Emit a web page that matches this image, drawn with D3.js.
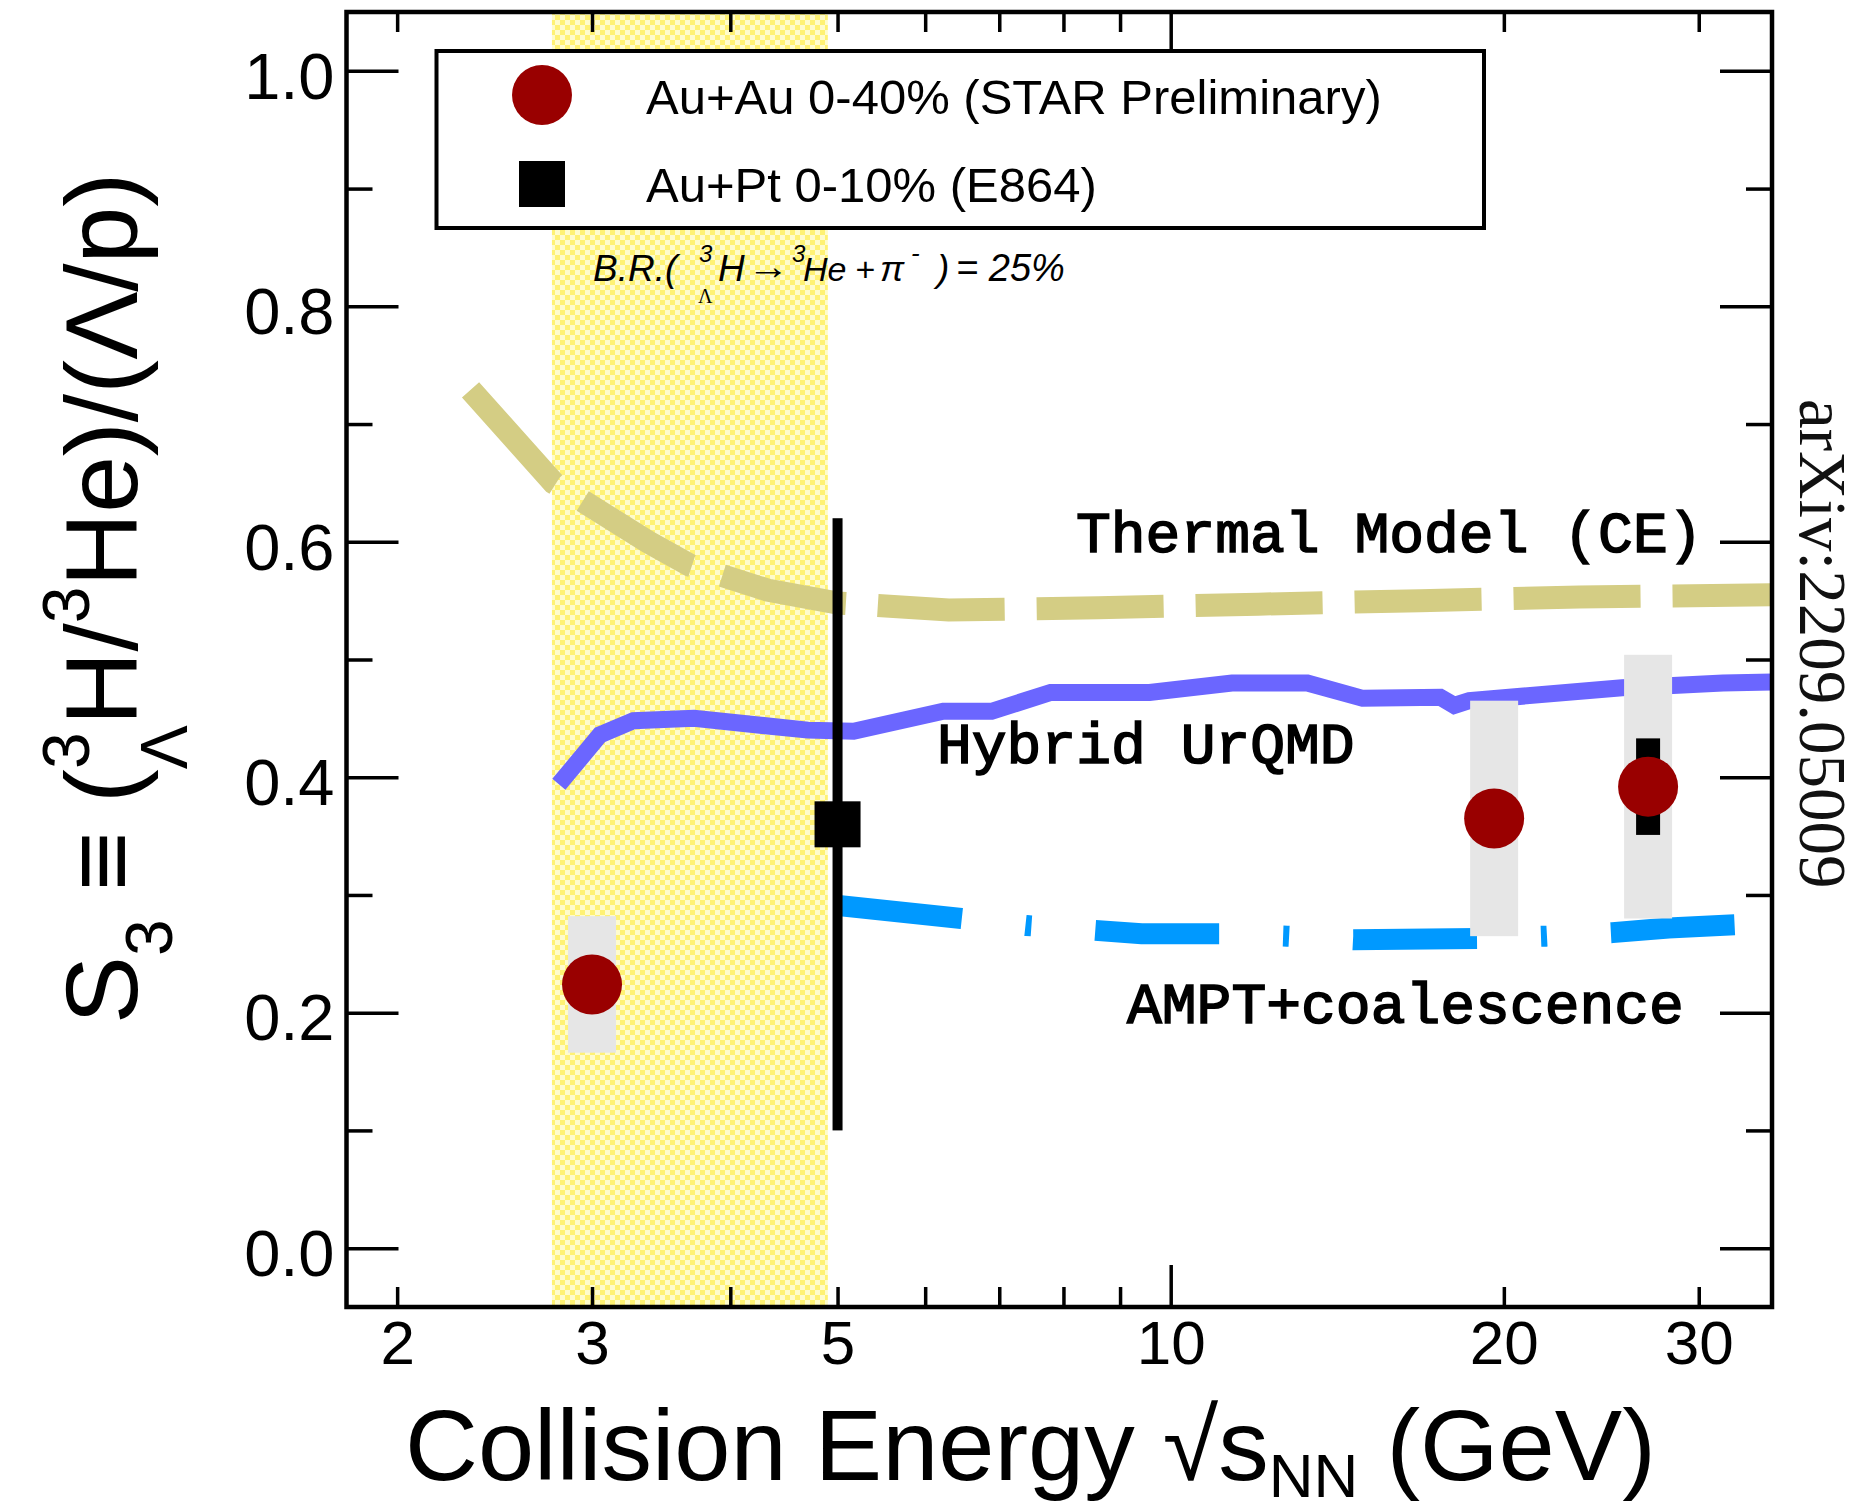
<!DOCTYPE html>
<html>
<head>
<meta charset="utf-8">
<script src="https://cdn.jsdelivr.net/npm/d3@7"></script>
<style>
  html, body { margin: 0; padding: 0; background: #fff; }
  svg { display: block; }
</style>
</head>
<body>
<script>
// S3 = (3ΛH/3He)/(Λ/p) versus collision energy, with model curves

// ---- axes ----
const xDomain = [1.8, 34.94];
const yDomain = [-0.05, 1.05];
const xMinorTicks = [2, 3, 4, 5, 6, 7, 8, 9, 20, 30];
const xMajorTicks = [10];
const xTickLabels = [2, 3, 5, 10, 20, 30];
const yMajorTicks = [0, 0.2, 0.4, 0.6, 0.8, 1.0];
const yMinorTicks = [0.1, 0.3, 0.5, 0.7, 0.9];

// ---- STAR Au+Au 0-40% (preliminary) ----
const starEnergy = [3.0, 19.6, 27.0];
const starS3 = [0.224, 0.365, 0.392];
const starStat = [0.02, 0.02, 0.041];
const starSys = [0.058, 0.100, 0.112];

// ---- E864 Au+Pt 0-10% ----
const e864Energy = [5.0];
const e864S3 = [0.36];
const e864Err = [0.26];

// ---- Thermal model (canonical ensemble) ----
const thermalEnergy = [2.33, 2.77, 3.37, 3.68, 4.32, 5.0, 5.41, 6.3, 8.6, 12.0, 16.8, 23.4, 34.9];
const thermalS3 = [0.729, 0.650, 0.600, 0.580, 0.559, 0.548, 0.546, 0.542, 0.544, 0.547, 0.550, 0.553, 0.555];

// ---- Hybrid UrQMD ----
const urqmdEnergy = [2.80, 3.05, 3.27, 3.71, 4.70, 5.17, 6.23, 6.89, 7.79, 9.57, 11.36, 13.29, 14.91, 17.52, 18.04, 18.61, 25.58, 28.44, 31.55, 35.0];
const urqmdS3 = [0.394, 0.436, 0.448, 0.450, 0.440, 0.439, 0.456, 0.456, 0.472, 0.472, 0.480, 0.480, 0.467, 0.468, 0.461, 0.465, 0.476, 0.478, 0.480, 0.481];

// ---- AMPT + coalescence ----
const amptEnergy = [5.01, 6.47, 7.41, 8.53, 9.41, 11.09, 12.74, 14.62, 19.02, 21.84, 25.08, 28.18, 32.69];
const amptS3 = [0.291, 0.280, 0.274, 0.270, 0.267, 0.267, 0.265, 0.262, 0.263, 0.265, 0.268, 0.272, 0.275];

// ---- energy range of the branching-ratio band ----
const bandEnergy = [2.76, 4.9];

// ---- legend ----
const legendLabels = ["Au+Au 0-40% (STAR Preliminary)", "Au+Pt 0-10% (E864)"];

const W = 1865, H = 1510;
const L = 346.5, R = 1772, T = 12, B = 1307;
const SANS = "'Liberation Sans', Arial, Helvetica, sans-serif";
const MONO = "'Liberation Mono', 'Courier New', Courier, monospace";
const SERIF = "'Liberation Serif', 'Times New Roman', serif";

const svg = d3.select("body").append("svg").attr("width", W).attr("height", H);
const x = d3.scaleLog().domain(xDomain).range([L, R]);
const y = d3.scaleLinear().domain(yDomain).range([B, T]);

const defs = svg.append("defs");
const pat = defs.append("pattern").attr("id", "checker")
  .attr("patternUnits", "userSpaceOnUse").attr("width", 10).attr("height", 10);
pat.append("rect").attr("width", 10).attr("height", 10).attr("fill", "#FFFCCC");
pat.append("rect").attr("width", 5).attr("height", 5).attr("fill", "#FFF274");
pat.append("rect").attr("x", 5).attr("y", 5).attr("width", 5).attr("height", 5).attr("fill", "#FFF274");
defs.append("clipPath").attr("id", "plotArea").append("rect")
  .attr("x", L).attr("y", T).attr("width", R - L).attr("height", B - T);

const plot = svg.append("g").attr("clip-path", "url(#plotArea)");

// branching-ratio band
plot.append("rect")
  .attr("x", x(bandEnergy[0])).attr("y", T)
  .attr("width", x(bandEnergy[1]) - x(bandEnergy[0])).attr("height", B - T)
  .attr("fill", "url(#checker)");

const line = d3.line().x(d => x(d[0])).y(d => y(d[1]));

// model curves
plot.append("path").datum(d3.zip(thermalEnergy, thermalS3)).attr("d", line)
  .attr("fill", "none").attr("stroke", "#D4CD84").attr("stroke-width", 23)
  .attr("stroke-dasharray", "127 32");
plot.append("path").datum(d3.zip(urqmdEnergy, urqmdS3)).attr("d", line)
  .attr("fill", "none").attr("stroke", "#6B66FF").attr("stroke-width", 17)
  .attr("stroke-linejoin", "miter");
plot.append("path").datum(d3.zip(amptEnergy, amptS3)).attr("d", line)
  .attr("fill", "none").attr("stroke", "#0099FF").attr("stroke-width", 21)
  .attr("stroke-dasharray", "124 64 6 64");

// systematic boxes
const star = starEnergy.map((e, i) => ({ e, v: starS3[i], stat: starStat[i], sys: starSys[i] }));
plot.selectAll("rect.sys").data(star).join("rect").attr("class", "sys")
  .attr("x", d => x(d.e) - 24).attr("width", 48)
  .attr("y", d => y(d.v + d.sys)).attr("height", d => y(d.v - d.sys) - y(d.v + d.sys))
  .attr("fill", "#E6E6E6");

// E864 point
const e864 = e864Energy.map((e, i) => ({ e, v: e864S3[i], err: e864Err[i] }));
plot.selectAll("rect.e864err").data(e864).join("rect").attr("class", "e864err")
  .attr("x", d => x(d.e) - 5).attr("width", 10)
  .attr("y", d => y(d.v + d.err)).attr("height", d => y(d.v - d.err) - y(d.v + d.err))
  .attr("fill", "#000");
plot.selectAll("rect.e864").data(e864).join("rect").attr("class", "e864")
  .attr("x", d => x(d.e) - 23).attr("y", d => y(d.v) - 23)
  .attr("width", 46).attr("height", 46).attr("fill", "#000");

// STAR statistical bars and markers
plot.selectAll("rect.stat").data(star).join("rect").attr("class", "stat")
  .attr("x", d => x(d.e) - 12).attr("width", 24)
  .attr("y", d => y(d.v + d.stat)).attr("height", d => y(d.v - d.stat) - y(d.v + d.stat))
  .attr("fill", "#000");
plot.selectAll("circle.star").data(star).join("circle").attr("class", "star")
  .attr("cx", d => x(d.e)).attr("cy", d => y(d.v)).attr("r", 30)
  .attr("fill", "#990000");

// model labels
const modelLabel = (txt, px, py) => svg.append("text").attr("x", px).attr("y", py)
  .attr("font-family", MONO).attr("font-size", 58)
  .attr("fill", "#000").attr("stroke", "#000").attr("stroke-width", 1.6)
  .text(txt);
modelLabel("Thermal Model (CE)", 1076, 552);
modelLabel("Hybrid UrQMD", 937, 763);
modelLabel("AMPT+coalescence", 1127, 1023);

// legend
const lg = svg.append("g");
lg.append("rect").attr("x", 436.5).attr("y", 51).attr("width", 1047.5).attr("height", 177)
  .attr("fill", "#fff").attr("stroke", "#000").attr("stroke-width", 4);
lg.append("circle").attr("cx", 542).attr("cy", 95).attr("r", 30).attr("fill", "#990000");
lg.append("rect").attr("x", 519).attr("y", 161).attr("width", 46).attr("height", 46).attr("fill", "#000");
lg.selectAll("text.lab").data(legendLabels).join("text").attr("class", "lab")
  .attr("x", 646).attr("y", (d, i) => 114 + i * 88)
  .attr("font-family", SANS).attr("font-size", 49).attr("fill", "#000").text(d => d);

// branching ratio note
const br = svg.append("g").attr("font-family", SANS).attr("font-style", "italic").attr("fill", "#000");
const brPiece = (txt, px, py, fs, fam) => {
  const t = br.append("text").attr("x", px).attr("y", py).attr("font-size", fs).text(txt);
  if (fam) t.attr("font-family", fam).attr("font-style", "normal");
  return t;
};
brPiece("B.R.(", 593, 281, 37);
brPiece("3", 699, 262, 24);
brPiece("Λ", 698, 303, 20, SERIF);
brPiece("H", 718, 281, 37);
brPiece("→", 747, 279, 37, SANS).attr("textLength", 42).attr("lengthAdjust", "spacingAndGlyphs");
brPiece("3", 792, 262, 24);
brPiece("He", 803, 281, 34);
brPiece("+", 855, 281, 34);
brPiece("π", 880, 281, 36);
brPiece("-", 911, 262, 26);
brPiece(")", 937, 281, 37);
brPiece("= 25%", 956, 281, 38);

// frame
svg.append("rect").attr("x", L).attr("y", T).attr("width", R - L).attr("height", B - T)
  .attr("fill", "none").attr("stroke", "#000").attr("stroke-width", 4.5);

// inward ticks
const tickAxis = (gen, tx, ty) => {
  const g = svg.append("g").attr("transform", `translate(${tx},${ty})`).call(gen);
  g.select(".domain").remove();
  g.selectAll("line").attr("stroke", "#000").attr("stroke-width", 3.5);
  g.selectAll("text").remove();
};
tickAxis(d3.axisBottom(x).tickValues(xMinorTicks).tickSize(-20), 0, B);
tickAxis(d3.axisBottom(x).tickValues(xMajorTicks).tickSize(-42), 0, B);
tickAxis(d3.axisTop(x).tickValues(xMinorTicks).tickSize(-20), 0, T);
tickAxis(d3.axisTop(x).tickValues(xMajorTicks).tickSize(-40), 0, T);
tickAxis(d3.axisLeft(y).tickValues(yMajorTicks).tickSize(-52), L, 0);
tickAxis(d3.axisLeft(y).tickValues(yMinorTicks).tickSize(-26), L, 0);
tickAxis(d3.axisRight(y).tickValues(yMajorTicks).tickSize(-52), R, 0);
tickAxis(d3.axisRight(y).tickValues(yMinorTicks).tickSize(-26), R, 0);

// tick labels
const xl = svg.append("g").attr("transform", `translate(0,${B})`)
  .call(d3.axisBottom(x).tickValues(xTickLabels).tickSize(0).tickPadding(13).tickFormat(d3.format("d")));
xl.select(".domain").remove();
xl.selectAll("text").attr("font-family", SANS).attr("font-size", 62).attr("fill", "#000");

const yl = svg.append("g").attr("transform", `translate(${L},0)`)
  .call(d3.axisLeft(y).tickValues(yMajorTicks).tickSize(0).tickPadding(12).tickFormat(d3.format(".1f")));
yl.select(".domain").remove();
yl.selectAll("text").attr("font-family", SANS).attr("font-size", 65).attr("fill", "#000").attr("dy", "0.42em");

// axis titles
const xt = svg.append("text").attr("x", 405).attr("y", 1480)
  .attr("font-family", SANS).attr("font-size", 101).attr("fill", "#000");
xt.append("tspan").text("Collision Energy √s");
xt.append("tspan").attr("font-size", 62).attr("dy", 17).text("NN");
xt.append("tspan").attr("dy", -17).text(" (GeV)");

const yt = svg.append("text").attr("transform", "translate(137,1024) rotate(-90)")
  .attr("font-family", SANS).attr("font-size", 102).attr("fill", "#000");
yt.append("tspan").text("S");
yt.append("tspan").attr("font-size", 66).attr("dy", 35).text("3");
yt.append("tspan").attr("dy", -35).text(" ≡ (");
yt.append("tspan").attr("font-size", 66).attr("dy", -48).text("3");
yt.append("tspan").attr("font-size", 66).attr("dx", -37).attr("dy", 98).text("Λ");
yt.append("tspan").attr("dy", -50).text("H/");
yt.append("tspan").attr("font-size", 66).attr("dy", -48).text("3");
yt.append("tspan").attr("dy", 48).text("He)/(Λ/p)");

// preprint identifier
svg.append("text").attr("transform", "translate(1800,399) rotate(90)")
  .attr("font-family", SERIF).attr("font-size", 67).attr("fill", "#111")
  .text("arXiv:2209.05009");
</script>
</body>
</html>
